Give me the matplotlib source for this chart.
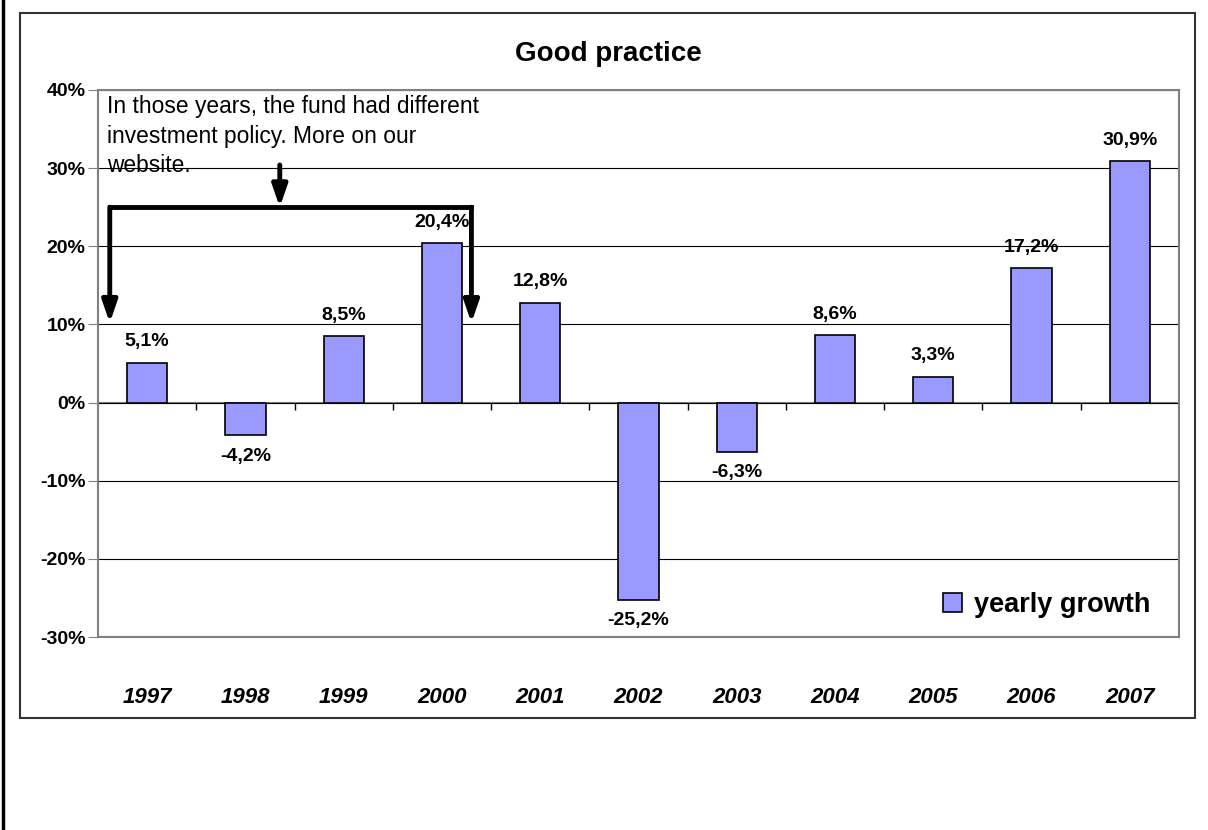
import matplotlib
matplotlib.use('Agg')
import matplotlib.pyplot as plt
from matplotlib.patches import Rectangle, Patch
from matplotlib.lines import Line2D

plt.rcParams['font.family'] = ['Liberation Sans', 'DejaVu Sans']

# data
years = ['1997', '1998', '1999', '2000', '2001', '2002', '2003', '2004', '2005', '2006', '2007']
growth = [5.1, -4.2, 8.5, 20.4, 12.8, -25.2, -6.3, 8.6, 3.3, 17.2, 30.9]
y_ticks = [-30, -20, -10, 0, 10, 20, 30, 40]
note = "In those years, the fund had different\ninvestment policy. More on our\nwebsite."

fig = plt.figure(figsize=(12.08, 8.30), dpi=100)
ax = fig.add_axes([0.0811, 0.2325, 0.8949, 0.6591])

x = list(range(len(years)))
bars = ax.bar(x, growth, width=0.41, color='#9999FF', edgecolor='black', linewidth=1.2, zorder=3)
ax.bar_label(bars, labels=[f'{v:.1f}%'.replace('.', ',') for v in growth],
             padding=9, fontsize=14, fontweight='bold')

ax.set_xlim(-0.5, len(years) - 0.5)
ax.set_ylim(-30, 40)
ax.set_yticks(y_ticks)
ax.set_yticklabels([f'{t}%' for t in y_ticks], fontsize=14, fontweight='bold')
ax.yaxis.grid(True, color='black', linewidth=0.8)
ax.set_axisbelow(True)
ax.set_xticks(x)
ax.set_xticklabels(years, fontsize=16, fontweight='bold', fontstyle='italic')
ax.tick_params(axis='x', length=0, pad=36)
ax.tick_params(axis='y', length=7, color='gray', pad=2)
for s in ax.spines.values():
    s.set_color('gray')
    s.set_linewidth(1.5)

# zero axis with category-boundary ticks
zero = ax.secondary_xaxis(30 / 70)
zero.set_xticks([i - 0.5 for i in range(1, len(years))])
zero.set_xticklabels([])
zero.tick_params(length=5, width=1, color='black', direction='out')
zero.spines['bottom'].set_color('gray')
zero.spines['bottom'].set_linewidth(1.5)

fig.text(608 / 1208, 1 - 54 / 830, 'Good practice', fontsize=20, fontweight='bold',
         ha='center', va='center')

# note and bracket arrows
ax.text(-0.41, 39.3, note, fontsize=16.4, va='top', ha='left', linespacing=1.35, zorder=1)
bracket_x = [-0.38, 3.30]
bracket_y = 25.0
arrow = dict(arrowstyle='-|>,head_width=0.45,head_length=1.3', color='black', lw=3.5, shrinkA=0, shrinkB=0)
ax.plot(bracket_x, [bracket_y, bracket_y], color='black', lw=3.5, solid_capstyle='projecting', zorder=4)
for bx in bracket_x:
    ax.annotate('', xy=(bx, 10.2), xytext=(bx, bracket_y), zorder=4, arrowprops=arrow)
ax.annotate('', xy=(1.35, bracket_y), xytext=(1.35, 30.4), zorder=4, arrowprops=arrow)

handle = Patch(facecolor='#9999FF', edgecolor='black', linewidth=1.2)
ax.legend([handle], ['yearly growth'], loc='lower right', frameon=False,
          prop={'size': 19.5, 'weight': 'bold'}, handlelength=0.7, handleheight=0.7,
          handletextpad=0.45, bbox_to_anchor=(0.996, -0.01))

# chart area border and page edge
fig.patches.append(Rectangle((20 / 1208, 1 - 718 / 830), 1175 / 1208, 705 / 830,
                             transform=fig.transFigure, fill=False, edgecolor='#333333', lw=1.5))
fig.lines.append(Line2D([3 / 1208, 3 / 1208], [0, 1], transform=fig.transFigure, color='black', lw=2.5))

fig.savefig('out.png', dpi=100)
